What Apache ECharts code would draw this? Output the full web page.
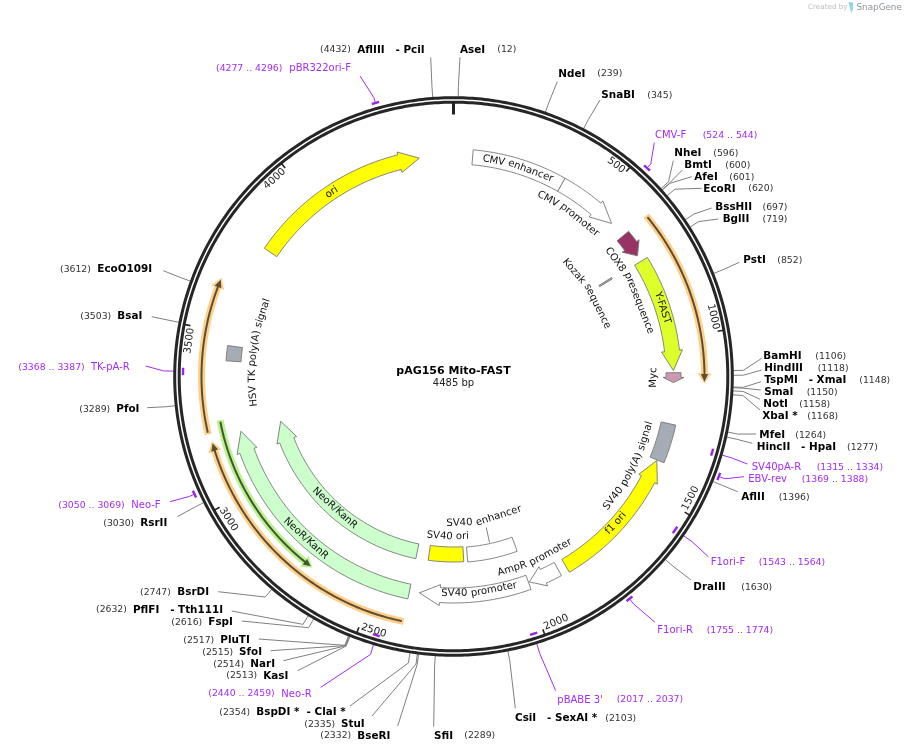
<!DOCTYPE html>
<html>
<head>
<meta charset="utf-8">
<title>pAG156 Mito-FAST</title>
<script src="https://cdn.jsdelivr.net/npm/echarts@6/dist/echarts.min.js"></script>
<style>
  html, body { margin: 0; padding: 0; background: #fff; }
  #map { width: 905px; height: 753px; }
</style>
</head>
<body>
<div id="map"></div>
<script>
var plasmidName = 'pAG156 Mito-FAST';
var plasmidLength = 4485;
var tickValues = [0, 500, 1000, 1500, 2000, 2500, 3000, 3500, 4000];

// restriction sites
var enzymeNames = ['AseI', 'NdeI', 'SnaBI', 'NheI', 'BmtI', 'AfeI', 'EcoRI', 'BssHII', 'BglII', 'PstI',
  'BamHI', 'HindIII', 'TspMI   - XmaI', 'SmaI', 'NotI', 'XbaI *', 'MfeI', 'HincII   - HpaI', 'AflII', 'DraIII',
  'CsiI   - SexAI *', 'SfiI', 'BseRI', 'StuI', 'BspDI *  - ClaI *', 'KasI', 'NarI', 'SfoI', 'PluTI', 'FspI',
  'PflFI   - Tth111I', 'BsrDI', 'RsrII', 'PfoI', 'BsaI', 'EcoO109I', 'AflIII   - PciI'];
var enzymeSites = [12, 239, 345, 596, 600, 601, 620, 697, 719, 852,
  1106, 1118, 1148, 1150, 1158, 1168, 1264, 1277, 1396, 1630,
  2103, 2289, 2332, 2335, 2354, 2513, 2514, 2515, 2517, 2616,
  2632, 2747, 3030, 3289, 3503, 3612, 4432];

// primers
var primerNames = ['CMV-F', 'SV40pA-R', 'EBV-rev', 'F1ori-F', 'F1ori-R', "pBABE 3'", 'Neo-R', 'Neo-F', 'TK-pA-R', 'pBR322ori-F'];
var primerFrom = [524, 1315, 1369, 1543, 1755, 2017, 2440, 3050, 3368, 4277];
var primerTo = [544, 1334, 1388, 1564, 1774, 2037, 2459, 3069, 3387, 4296];

// features, drawn from -> to (to is the arrow tip)
var featureNames = ['CMV enhancer', 'CMV promoter', 'COX8 presequence', 'Kozak sequence', 'Y-FAST', 'Myc',
  'SV40 poly(A) signal', 'f1 ori', 'AmpR promoter', 'SV40 promoter', 'SV40 enhancer', 'SV40 ori',
  'NeoR/KanR', 'NeoR/KanR', 'HSV TK poly(A) signal', 'ori'];
var featureFrom = [62, 366, 627, 722, 728, 1109, 1275, 1861, 1888, 1993, 1993, 2203, 2387, 2388, 3413, 3789];
var featureTo = [366, 572, 707, 728, 1102, 1141, 1399, 1401, 1990, 2354, 2188, 2340, 3184, 3183, 3461, 4374];

// translated ORFs, the thin bands
var orfFrom = [630, 2391, 3203, 3227];
var orfTo = [1136, 3171, 3645, 2703];

// ---- look of the map, not data ----
var FONT = '"DejaVu Sans"';
var featureColors = ['#ffffff', '#ffffff', '#993366', '#a6acb5', '#dfff2a', '#cc99b2',
  '#a6acb5', '#ffff00', '#ffffff', '#ffffff', '#ffffff', '#ffff00',
  '#ccffcc', '#ccffcc', '#a6acb5', '#ffff00'];
var featureRadius = [220, 220, 220, 179, 220, 220, 220, 220, 219, 219, 178.5, 178, 219.5, 178.5, 220.5, 221];
var featureHead = [0, 69, 39, 0, 64, 17, 0, 67, 49, 67, 0, 0, 67, 80, 0, 65];
var labelBp = [214, 438, 797, 724, 895, 1125, 1458, 1646, 1942, 2157, 2090, 2268, 2770, 2766, 3451, 4068];
var labelRadius = [219.6, 201, 199.5, 160, 220, 200, 201, 219, 201, 216.7, 146.5, 160, 219.2, 177.3, 201, 220.8];
var orfRadius = [251, 250, 252, 237.5];
var orfGlow = ['#ffd08a', '#ffd08a', '#ffd08a', '#bdf08f'];
var orfCore = ['#5f4d33', '#5f4d33', '#5f4d33', '#3d5a2a'];

// nameX, posX, y, anchorX, anchorY
var enzymeLayout = [
  [460, 497.3, 50, 460, 57.3], [558.3, 597.3, 74, 557.3, 81.7], [601.3, 647.3, 95.3, 600, 100],
  [674.3, 713.3, 153.3, 673.3, 160.7], [684.3, 725.3, 165.3, 682.3, 170], [694.3, 729.3, 177.3, 691.7, 176.7],
  [703.3, 748.3, 189, 701.7, 188.3], [715.3, 762.5, 207.3, 711.7, 208], [722.7, 762.5, 219.3, 718.3, 219],
  [743.3, 777.3, 260.7, 739.3, 262.3], [763.3, 815.3, 356.7, 761.7, 358.3], [764.3, 817.7, 368.3, 761.7, 370],
  [764.3, 859.3, 380.3, 761, 381.7], [764.3, 806.7, 392.3, 760.7, 390], [763.3, 799.3, 404.3, 760, 399.3],
  [762.3, 807.3, 416.3, 760, 410], [759.3, 795.3, 435.3, 756, 434], [756.7, 847, 447.3, 752.3, 443.3],
  [741.3, 778.7, 497.3, 737.7, 491.7], [693.3, 741.3, 587.3, 691, 580], [515, 605.3, 718.3, 515.3, 708.3],
  [434, 464.3, 736, 433.7, 726.7], [357.3, 320.3, 736, 397.7, 726], [341, 304.3, 724.3, 372, 716],
  [256.3, 219.3, 712.3, 350, 706], [263.3, 226.3, 676, 297.7, 670.7], [250.3, 213.3, 664.7, 283.3, 660.7],
  [239, 202.3, 652.3, 270.7, 650.7], [220.3, 183.3, 640.3, 258.7, 639], [208.3, 171.3, 622.3, 241.7, 621],
  [133, 96, 610, 231.7, 611], [177.3, 140, 592.3, 218.3, 591.7], [140.3, 103.3, 523.7, 177.3, 516.7],
  [116.3, 79.3, 409.3, 147.3, 407.7], [117.3, 80.3, 316.3, 151.7, 316.7], [97.3, 60, 269.3, 163.3, 270.7],
  [357.3, 320, 50, 430.7, 57.3]
];
var primerLayout = [
  [655, 702.7, 135.3, 654.3, 142.7], [751.7, 816.7, 467.3, 747.3, 464], [748.3, 801.7, 479.3, 744, 476.7],
  [710.7, 758.7, 562.3, 708.3, 556.7], [657.3, 706.7, 630.3, 655, 622.3], [557.3, 616.7, 700, 555.7, 690.7],
  [281.3, 208.3, 694, 320.7, 687.3], [131.3, 58.3, 505.3, 170, 501.7], [91, 18.3, 367.3, 145.7, 366],
  [289.3, 216, 68.7, 360, 76]
];
var primerRadius = [284.5, 269.5, 283.5, 269.5, 283.5, 269.5, 270, 284.5, 270.5, 284.5];

var measureCtx = document.createElement('canvas').getContext('2d');
function textWidth(text, font) {
  measureCtx.font = font;
  return measureCtx.measureText(text).width;
}

// points along an arc, with r in px and positions in bp
function arc(api, from, to, r) {
  var n = Math.max(2, Math.ceil(Math.abs(to - from) / 8));
  var pts = [];
  for (var i = 0; i <= n; i++) {
    pts.push(api.coord([r, from + (to - from) * i / n]));
  }
  return pts;
}

function arrowPoints(api, from, to, r, head, hw, headHw) {
  var dir = to > from ? 1 : -1;
  if (!head) {
    return arc(api, from, to, r + hw).concat(arc(api, to, from, r - hw));
  }
  var base = to - dir * head;
  return arc(api, from, base, r + hw)
    .concat([api.coord([r + headHw, base]), api.coord([r, to]), api.coord([r - headHw, base])])
    .concat(arc(api, base, from, r - hw));
}

function textEl(text, x, y, font, fill, align, rotation) {
  return {
    type: 'text',
    x: x,
    y: y,
    rotation: rotation || 0,
    style: { text: text, font: font, fill: fill, align: align || 'left', verticalAlign: 'middle' }
  };
}

// label that follows the circle, word by word
function arcLabel(api, text, bp, r, font, fill) {
  var deg = bp / plasmidLength * 360;
  var flip = deg > 90 && deg < 270;
  var total = textWidth(text, font);
  var words = text.split(' ');
  var out = [];
  var prefix = '';
  words.forEach(function (w) {
    var w0 = textWidth(prefix, font);
    var w1 = textWidth(w, font);
    var offset = w0 + w1 / 2 - total / 2;
    var rad = deg * Math.PI / 180 + (flip ? -1 : 1) * offset / r;
    var at = api.coord([r, rad / (2 * Math.PI) * plasmidLength]);
    out.push(textEl(w, at[0], at[1], font, fill, 'center', -rad + (flip ? Math.PI : 0)));
    prefix += w + ' ';
  });
  return out;
}

function renderEnzyme(params, api) {
  var i = api.value(2);
  var site = enzymeSites[i];
  var lay = enzymeLayout[i];
  var pts = [api.coord([280, site]), api.coord([290, site]), [lay[3], lay[4]]];
  return {
    type: 'group',
    children: [
      { type: 'polyline', shape: { points: pts }, style: { stroke: '#808080', lineWidth: 1, fill: null } },
      textEl(enzymeNames[i], lay[0], lay[2], 'bold 10.4px ' + FONT, '#000'),
      textEl('(' + site + ')', lay[1], lay[2], '9.3px ' + FONT, '#333')
    ]
  };
}

function renderPrimer(params, api) {
  var i = api.value(2);
  var mid = (primerFrom[i] + primerTo[i]) / 2;
  var r = primerRadius[i];
  var lay = primerLayout[i];
  var purple = '#a32cf5';
  var pts = [[lay[3], lay[4]], api.coord([290, mid]), api.coord([r > 280 ? r : 280, mid])];
  return {
    type: 'group',
    children: [
      { type: 'polyline', shape: { points: arc(api, primerFrom[i], primerTo[i], r) }, style: { stroke: '#9b1ff0', lineWidth: 2.4, fill: null } },
      { type: 'polyline', shape: { points: pts }, style: { stroke: purple, lineWidth: 1, fill: null } },
      textEl(primerNames[i], lay[0], lay[2], '10px ' + FONT, purple),
      textEl('(' + primerFrom[i] + ' .. ' + primerTo[i] + ')', lay[1], lay[2], '9.3px ' + FONT, purple)
    ]
  };
}

function renderRing(params, api) {
  return {
    type: 'group',
    children: [278.8, 274.3].map(function (r) {
      return {
        type: 'polyline',
        shape: { points: arc(api, 0, plasmidLength, r) },
        style: { stroke: '#262626', lineWidth: 3, fill: null }
      };
    })
  };
}

function renderTick(params, api) {
  var bp = api.value(1);
  if (bp === 0) {
    return {
      type: 'line',
      shape: { x1: api.coord([274, 0])[0], y1: api.coord([274, 0])[1], x2: api.coord([262, 0])[0], y2: api.coord([262, 0])[1] },
      style: { stroke: '#222', lineWidth: 3 }
    };
  }
  var a = api.coord([274, bp]);
  var b = api.coord([268, bp]);
  var font = '10.2px ' + FONT;
  // number ends right at its tick
  var back = (textWidth(String(bp), font) / 2 + 2) / 266.5 / (2 * Math.PI) * plasmidLength;
  var out = arcLabel(api, String(bp), bp - back, 266.5, font, '#222');
  out.push({ type: 'line', shape: { x1: a[0], y1: a[1], x2: b[0], y2: b[1] }, style: { stroke: '#222', lineWidth: 1.6 } });
  return { type: 'group', children: out };
}

function renderOrf(params, api) {
  var i = api.value(2);
  var r = orfRadius[i];
  var from = orfFrom[i];
  var to = orfTo[i];
  var dir = to > from ? 1 : -1;
  return {
    type: 'group',
    children: [
      { type: 'polygon', shape: { points: arrowPoints(api, from - dir * 5, to + dir * 6, r, 30, 3.5, 7) }, style: { fill: orfGlow[i] } },
      { type: 'polygon', shape: { points: arrowPoints(api, from, to, r, 22, 1, 3.6) }, style: { fill: orfCore[i] } }
    ]
  };
}

function renderFeature(params, api) {
  var i = api.value(2);
  var r = featureRadius[i];
  var children = [{
    type: 'polygon',
    shape: { points: arrowPoints(api, featureFrom[i], featureTo[i], r, featureHead[i], 7.5, 10.5) },
    style: { fill: featureColors[i], stroke: '#777', lineWidth: 0.9 }
  }];
  if (featureNames[i] === 'SV40 enhancer') {
    var p = api.coord([154.4, 2090]);
    var q = api.coord([170, 2090]);
    children.push({ type: 'line', shape: { x1: p[0], y1: p[1], x2: q[0], y2: q[1] }, style: { stroke: '#777', lineWidth: 0.9 } });
  }
  return {
    type: 'group',
    children: children.concat(arcLabel(api, featureNames[i], labelBp[i], labelRadius[i], '10.1px ' + FONT, '#111'))
  };
}

function customSeries(render, rows) {
  return {
    type: 'custom',
    coordinateSystem: 'polar',
    renderItem: render,
    encode: { radius: 0, angle: 1 },
    silent: true,
    data: rows
  };
}

function rows(values) {
  return values.map(function (v, i) { return [280, v, i]; });
}

var chart = echarts.init(document.getElementById('map'));
chart.setOption({
  animation: false,
  backgroundColor: '#fff',
  polar: { center: [453.5, 376.5], radius: 300 },
  angleAxis: { type: 'value', min: 0, max: plasmidLength, startAngle: 90, clockwise: true, show: false },
  radiusAxis: { type: 'value', min: 0, max: 300, show: false },
  series: [
    customSeries(renderEnzyme, rows(enzymeSites)),
    customSeries(renderPrimer, rows(primerFrom)),
    customSeries(renderRing, [[280, 0, 0]]),
    customSeries(renderTick, rows(tickValues)),
    customSeries(renderOrf, rows(orfFrom)),
    customSeries(renderFeature, rows(featureFrom))
  ],
  graphic: [
    { type: 'text', x: 453.5, y: 371, style: { text: plasmidName, font: 'bold 11px ' + FONT, fill: '#000', align: 'center', verticalAlign: 'middle' } },
    { type: 'text', x: 453.5, y: 383.5, style: { text: plasmidLength + ' bp', font: '10px ' + FONT, fill: '#222', align: 'center', verticalAlign: 'middle' } },
    { type: 'text', x: 808, y: 7.5, style: { text: 'Created by', font: '7.2px ' + FONT, fill: '#b9bdc2', align: 'left', verticalAlign: 'middle' } },
    { type: 'polygon', shape: { points: [[848.5, 2], [853, 2.5], [853, 9], [851.5, 13], [850, 9]] }, style: { fill: '#8fd6f5' } },
    { type: 'text', x: 856.5, y: 7.5, style: { text: 'SnapGene', font: '8.8px ' + FONT, fill: '#8f959b', align: 'left', verticalAlign: 'middle' } }
  ]
});
</script>
</body>
</html>
